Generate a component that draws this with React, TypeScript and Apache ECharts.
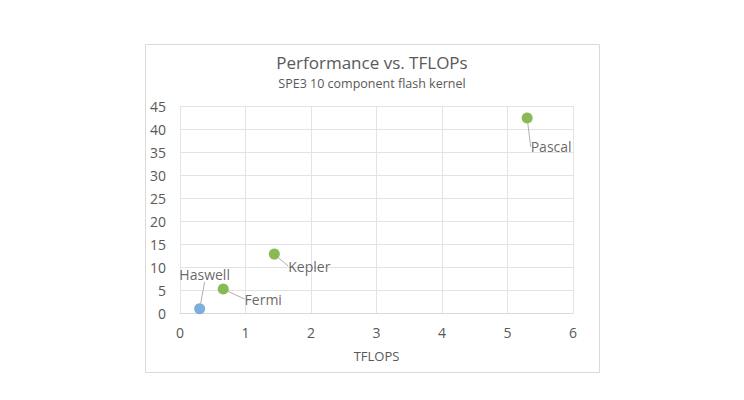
import React, { useEffect, useRef } from "react";
import * as echarts from "echarts";

const titleText = "Performance vs. TFLOPs";
const subtitleText = "SPE3 10 component flash kernel";
const xAxisName = "TFLOPS";

const cpuNames = ["Haswell"];
const cpuTflops = [0.3];
const cpuPerf = [0.9];

const gpuNames = ["Fermi", "Kepler", "Pascal"];
const gpuTflops = [0.66, 1.44, 5.3];
const gpuPerf = [5.2, 12.8, 42.4];

const labelShift: Record<string, [number, number]> = {
  Haswell: [5, -34],
  Fermi: [40, 10],
  Kepler: [35, 12],
  Pascal: [24, 29],
};

const FONT = "'Open Sans', 'Noto Sans', sans-serif";
const TEXT = "#595959";

export default function App() {
  const ref = useRef<HTMLDivElement>(null);
  useEffect(() => {
    if (!ref.current) return;
    const chart = echarts.init(ref.current, null, { renderer: "svg" });
    const mk = (names: string[], xs: number[], ys: number[]) =>
      names.map((n, i) => ({ name: n, value: [xs[i], ys[i]] }));
    const labelCfg = {
      show: true,
      position: "inside" as const,
      formatter: "{b}",
      color: "#404040",
      fontSize: 14,
      fontFamily: FONT,
    };
    const layout = (seriesNames: string[]) => (p: any) => {
      const n = seriesNames[p.dataIndex];
      const s = labelShift[n] || [0, 0];
      return { dx: s[0], dy: s[1] };
    };
    chart.setOption({
      animation: false,
      backgroundColor: "#ffffff",
      textStyle: { fontFamily: FONT },
      title: {
        text: titleText,
        subtext: subtitleText,
        left: "center",
        top: 49,
        itemGap: 6,
        textStyle: { fontSize: 17, fontWeight: "normal", color: TEXT, fontFamily: FONT },
        subtextStyle: { fontSize: 12.5, color: TEXT, fontFamily: FONT },
      },
      graphic: [
        {
          type: "rect",
          shape: { x: 145.5, y: 44.5, width: 454, height: 328 },
          style: { fill: "none", stroke: "#d9d9d9", lineWidth: 1 },
          silent: true,
          z: -1,
        },
      ],
      grid: { left: 180, right: 171, top: 106, bottom: 87 },
      xAxis: {
        type: "value",
        min: 0,
        max: 6,
        interval: 1,
        name: xAxisName,
        nameLocation: "middle",
        nameGap: 36,
        nameTextStyle: { color: TEXT, fontSize: 13, fontFamily: FONT },
        axisLine: { show: true, lineStyle: { color: "#d9d9d9" } },
        axisTick: { show: false },
        axisLabel: { color: TEXT, fontSize: 14, margin: 12, fontFamily: FONT },
        splitLine: { show: true, lineStyle: { color: "#e3e3e3" } },
      },
      yAxis: {
        type: "value",
        min: 0,
        max: 45,
        interval: 5,
        axisLine: { show: false },
        axisTick: { show: false },
        axisLabel: { color: TEXT, fontSize: 14, margin: 14, fontFamily: FONT },
        splitLine: { show: true, lineStyle: { color: "#e3e3e3" } },
      },
      series: [
        {
          name: "CPU",
          type: "scatter",
          symbolSize: 11,
          itemStyle: { color: "#5b9bd5" },
          data: mk(cpuNames, cpuTflops, cpuPerf),
          label: labelCfg,
          labelLine: { show: true, lineStyle: { color: "#b0b0b0", width: 1 } },
          labelLayout: layout(cpuNames),
        },
        {
          name: "GPU",
          type: "scatter",
          symbolSize: 11,
          itemStyle: { color: "#6aaa2a" },
          data: mk(gpuNames, gpuTflops, gpuPerf),
          label: labelCfg,
          labelLine: { show: true, lineStyle: { color: "#b0b0b0", width: 1 } },
          labelLayout: layout(gpuNames),
        },
      ],
    });
    return () => chart.dispose();
  }, []);
  return <div ref={ref} style={{ width: 744, height: 400, position: "absolute", left: 0, top: 0 }} />;
}
